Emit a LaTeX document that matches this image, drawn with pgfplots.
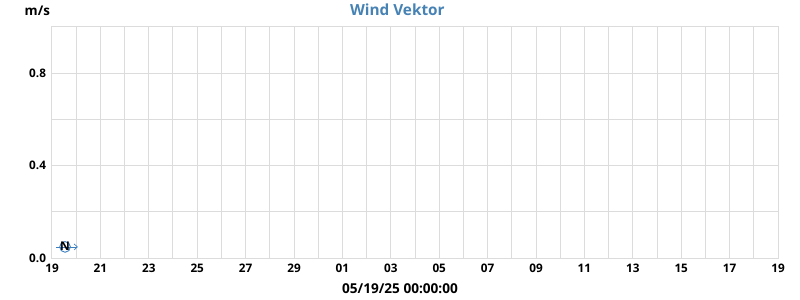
\documentclass[border=0pt]{standalone}
\usepackage{fontspec}
\setmainfont{Open Sans}
\usepackage{pgfplots}
\pgfplotsset{compat=1.18}
\usetikzlibrary{arrows.meta}
\definecolor{vblue}{HTML}{3C7FC0}
\definecolor{tblue}{HTML}{4682B4}
\definecolor{gridc}{HTML}{DCDCDC}
\begin{document}
\begin{tikzpicture}[x=1pt,y=1pt]
\useasboundingbox (0,0) rectangle (600,225);
\begin{axis}[
  at={(39pt,31.5pt)}, anchor=south west,
  scale only axis, width=544.5pt, height=173.25pt,
  xmin=0, xmax=30, ymin=0, ymax=1.0,
  xtick={0,2,...,30},
  xticklabels={19,21,23,25,27,29,01,03,05,07,09,11,13,15,17,19},
  minor xtick={1,3,...,29},
  ytick={0,0.4,0.8},
  yticklabels={0.0,0.4,0.8},
  minor ytick={0.2,0.6,1.0},
  grid=both,
  major grid style={gridc, line width=0.75pt},
  minor grid style={gridc, line width=0.75pt},
  axis line style={gridc, line width=0.75pt},
  tick style={draw=none},
  tick label style={font=\fontsize{8.8}{10}\selectfont\bfseries, text=black},
  xticklabel style={yshift=-1pt},
  yticklabel style={xshift=-1pt},
  clip=false,
]
\addplot[only marks, mark=o, mark size=4pt, mark options={vblue, line width=0.7pt}] coordinates {(0.54,0.048)};
\addplot[vblue, line width=0.5pt, -{Straight Barb[length=2.5pt,width=4.5pt]},
  quiver={u=\thisrow{u}, v=\thisrow{v}}] table {
x y u v
0.17 0.048 0.9 0
};
\addplot[only marks, mark=none, point meta=explicit symbolic,
  nodes near coords, nodes near coords align={center},
  every node near coord/.style={font=\fontsize{9}{10}\selectfont\bfseries, text=black, inner sep=0pt, yshift=0.5pt}]
  table[meta=t] {
x y t
0.54 0.048 N
};
\end{axis}
\node[font=\fontsize{11.5}{13}\selectfont\bfseries, text=tblue] at (298,218) {Wind Vektor};
\node[font=\fontsize{10}{12}\selectfont\bfseries] at (28,217) {m/s};
\node[font=\fontsize{10.2}{12}\selectfont\bfseries] at (300,8.5) {05/19/25 00:00:00};
\end{tikzpicture}
\end{document}
